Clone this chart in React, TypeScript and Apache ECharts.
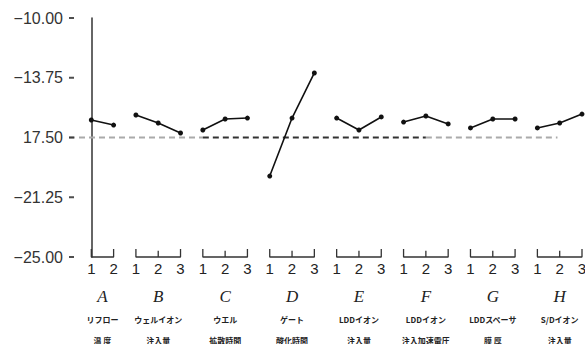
import React, { useEffect, useRef } from "react";
import * as echarts from "echarts";

// ---- data ----
const FACTORS = ["A", "B", "C", "D", "E", "F", "G", "H"];
const FACTOR_NAME_L1 = ["リフロー", "ウェルイオン", "ウエル", "ゲート", "LDDイオン", "LDDイオン", "LDDスペーサ", "S/Dイオン"];
const FACTOR_NAME_L2 = ["温 度", "注入量", "拡散時間", "酸化時間", "注入量", "注入加速電圧", "膜 厚", "注入量"];
const SN_A = [-16.4, -16.72];
const SN_B = [-16.09, -16.59, -17.22];
const SN_C = [-17.03, -16.34, -16.28];
const SN_D = [-19.92, -16.28, -13.45];
const SN_E = [-16.28, -17.03, -16.21];
const SN_F = [-16.53, -16.15, -16.65];
const SN_G = [-16.9, -16.34, -16.34];
const SN_H = [-16.9, -16.59, -16.03];
const SN_ALL = [SN_A, SN_B, SN_C, SN_D, SN_E, SN_F, SN_G, SN_H];
const MEAN_SN = -17.5;
const Y_TICKS = [-25, -21.25, -17.5, -13.75, -10];
const Y_TICK_LABELS = ["−25.00", "−21.25", "17.50", "−13.75", "−10.00"];

const Y_MIN = -25;
const Y_MAX = -10;
const BRACKET_H = 0.5; // bracket tick height in value units

// positions of levels along x (index based)
const starts: number[] = [];
let acc = 0;
SN_ALL.forEach((arr) => {
  starts.push(acc);
  acc += arr.length;
});
const X_MAX = acc - 1;

const SANS = "'Liberation Sans Narrow', 'Liberation Sans', Arial, sans-serif";
const SERIF = "'Liberation Serif', 'DejaVu Serif', serif";
const CJK = "'Noto Sans CJK JP', sans-serif";

export default function App() {
  const ref = useRef<HTMLDivElement>(null);
  useEffect(() => {
    if (!ref.current) return;
    const chart = echarts.init(ref.current, undefined, { renderer: "svg" });

    const levelValues: number[] = [];
    const levelMap: Record<string, string> = {};
    SN_ALL.forEach((arr, gi) => {
      arr.forEach((_, li) => {
        const x = starts[gi] + li;
        levelValues.push(x);
        levelMap[String(x)] = String(li + 1);
      });
    });
    const centers = SN_ALL.map((arr, gi) => starts[gi] + (arr.length - 1) / 2);

    const lineSeries = SN_ALL.map((arr, gi) => ({
      type: "line",
      data: arr.map((v, li) => [starts[gi] + li, v]),
      symbol: "circle",
      symbolSize: 5,
      lineStyle: { color: "#111", width: 1.6 },
      itemStyle: { color: "#111" },
      z: 5,
    }));

    // brackets under each factor
    const bracketSeries = SN_ALL.map((arr, gi) => {
      const s = starts[gi];
      const e = s + arr.length - 1;
      const pts: any[] = [[s, Y_MIN + BRACKET_H], [s, Y_MIN]];
      for (let i = s + 1; i < e; i++) {
        pts.push([i, Y_MIN], [i, Y_MIN + BRACKET_H * 0.8], [i, Y_MIN]);
      }
      pts.push([e, Y_MIN], [e, Y_MIN + BRACKET_H]);
      return {
        type: "line",
        data: pts,
        symbol: "none",
        clip: false,
        silent: true,
        lineStyle: { color: "#333", width: 1.3 },
        z: 4,
      };
    });

    const meanSeg = (a: number, b: number, color: string) => ({
      type: "line",
      data: [
        [a, MEAN_SN],
        [b, MEAN_SN],
      ],
      symbol: "none",
      lineStyle: { color, width: 2, type: [6, 4] },
      z: 3,
    });

    const option: any = {
      animation: false,
      grid: { left: 69, right: 3, top: 18, bottom: 87, containLabel: false, outerBoundsMode: "none" },
      xAxis: [
        {
          type: "value",
          min: -1,
          max: X_MAX,
          axisLine: { show: false },
          axisTick: { show: false },
          splitLine: { show: false },
          axisLabel: {
            customValues: levelValues,
            formatter: (v: number) => levelMap[String(v)] || "",
            margin: 4,
            fontFamily: SANS,
            fontSize: 15,
            color: "#222",
          },
        },
        {
          type: "value",
          min: -1,
          max: X_MAX,
          position: "bottom",
          axisLine: { show: false },
          axisTick: { show: false },
          splitLine: { show: false },
          axisLabel: {
            customValues: centers,
            margin: 28,
            formatter: (v: number) => {
              const gi = centers.indexOf(v);
              if (gi < 0) return "";
              return `{l|${FACTORS[gi]}}\n{a|${FACTOR_NAME_L1[gi]}}\n{b|${FACTOR_NAME_L2[gi]}}`;
            },
            rich: {
              l: { fontFamily: SERIF, fontStyle: "italic", fontSize: 17, lineHeight: 22, color: "#222" },
              a: { fontFamily: CJK, fontSize: 8, lineHeight: 24, color: "#222", fontWeight: "bold" },
              b: { fontFamily: CJK, fontSize: 8, lineHeight: 18, color: "#222", fontWeight: "bold" },
            },
          },
        },
      ],
      yAxis: {
        type: "value",
        min: Y_MIN,
        max: Y_MAX,
        axisLine: { show: true, lineStyle: { color: "#333", width: 1.5 } },
        axisTick: { show: false },
        splitLine: { show: false },
        axisLabel: {
          customValues: Y_TICKS,
          formatter: (v: number) => {
            const i = Y_TICKS.indexOf(v);
            return i >= 0 ? Y_TICK_LABELS[i] : "";
          },
          margin: 6,
          fontFamily: SANS,
          fontSize: 16,
          color: "#333",
        },
      },
      series: [
        meanSeg(-1, 5, "#aaa"),
        meanSeg(5, 15, "#333"),
        meanSeg(15, 20.9, "#aaa"),
        ...lineSeries,
        ...bracketSeries,
        {
          type: "scatter",
          data: Y_TICKS.map((v) => [-1, v]),
          symbol: "rect",
          symbolSize: [5, 2],
          symbolOffset: [2.5, 0],
          itemStyle: { color: "#222" },
          clip: false,
          silent: true,
          z: 6,
        },
      ],
    };
    chart.setOption(option);
    return () => chart.dispose();
  }, []);
  return <div ref={ref} style={{ width: 585, height: 344, position: "absolute", left: 0, top: 0, background: "#fff" }} />;
}
